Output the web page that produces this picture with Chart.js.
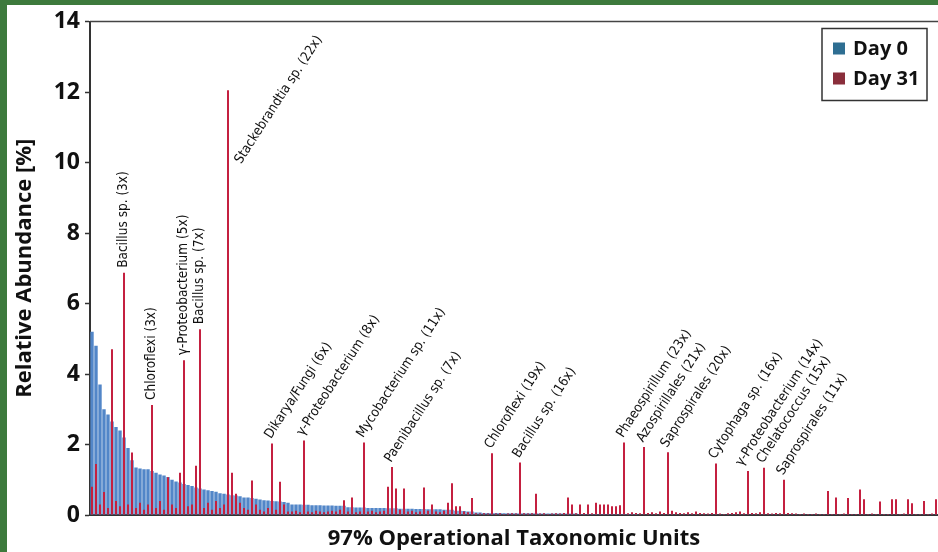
<!DOCTYPE html>
<html>
<head>
<meta charset="utf-8">
<script src="https://cdn.jsdelivr.net/npm/chart.js@4.4.1/dist/chart.umd.min.js"></script>
<style>
  html, body { margin: 0; padding: 0; }
  body { width: 938px; height: 552px; background: #3d7a3c; position: relative; overflow: hidden; }
  #frame { position: absolute; left: 7px; top: 5px; width: 931px; height: 547px; background: #fff; }
</style>
</head>
<body>
<div id="frame"><canvas id="chart"></canvas></div>
<script>
// relative abundance [%] per OTU, ranked by Day 0
const day0 = [
  5.2, 4.8, 3.7, 3.0, 2.85, 2.65, 2.5, 2.4, 2.2, 1.9,
  1.55, 1.35, 1.32, 1.3, 1.3, 1.25, 1.2, 1.15, 1.12, 1.08,
  1.0, 0.95, 0.92, 0.88, 0.85, 0.82, 0.78, 0.75, 0.72, 0.7,
  0.68, 0.66, 0.62, 0.6, 0.58, 0.56, 0.55, 0.53, 0.5, 0.5,
  0.48, 0.46, 0.44, 0.42, 0.41, 0.4, 0.39, 0.38, 0.37, 0.35,
  0.3, 0.3, 0.3, 0.29, 0.29, 0.28, 0.28, 0.28, 0.27, 0.27,
  0.27, 0.26, 0.26, 0.26, 0.22, 0.22, 0.21, 0.21, 0.21, 0.2,
  0.2, 0.2, 0.2, 0.2, 0.19, 0.19, 0.19, 0.18, 0.18, 0.18,
  0.18, 0.17, 0.17, 0.17, 0.16, 0.16, 0.16, 0.16, 0.15, 0.15,
  0.15, 0.12, 0.12, 0.11, 0.1, 0.1, 0.07, 0.07, 0.06, 0.06,
  0.06, 0.06, 0.06, 0.05, 0.05, 0.05, 0.05, 0.05, 0.05, 0.05,
  0.05, 0.05, 0.04, 0.04, 0.04, 0.04, 0.04, 0.04, 0.04, 0.04,
  0.04, 0.04, 0.03, 0.03, 0.03, 0.03, 0.03, 0.03, 0.03, 0.03,
  0.03, 0.03, 0.03, 0.03, 0.03, 0.03, 0.03, 0.02, 0.02, 0.02,
  0.02, 0.02, 0.02, 0.02, 0.02, 0.02, 0.02, 0.02, 0.02, 0.02,
  0.02, 0.02, 0.02, 0.02, 0.02, 0.01, 0.01, 0.01, 0.01, 0.01,
  0.01, 0.01, 0.01, 0.01, 0.01, 0.01, 0.01, 0.01, 0.01, 0.01,
  0.01, 0.01, 0.01, 0.01, 0.01, 0.01, 0.01, 0.01, 0.01, 0.01,
  0.01, 0.01, 0.01, 0.01, 0.01, 0.01, 0.01, 0.01, 0.01, 0.01,
  0.01, 0.01, 0.01, 0.01, 0.01, 0.01, 0.01, 0.01, 0.01, 0.01,
  0.01, 0.01, 0.01, 0.01, 0.01, 0.01, 0.01, 0.01, 0.01, 0.01,
  0.01, 0.01
]
const day31 = [
  0.8, 1.45, 0.3, 0.65, 0.2, 4.7, 0.4, 0.25, 6.87, 0.3,
  1.77, 0.2, 0.35, 0.15, 0.3, 3.12, 0.2, 0.4, 0.15, 1.07,
  0.3, 0.2, 1.2, 4.39, 0.25, 0.3, 1.4, 5.27, 0.2, 0.35,
  0.15, 0.4, 0.2, 0.3, 12.05, 1.2, 0.6, 0.35, 0.2, 0.15,
  0.98, 0.3, 0.15, 0.1, 0.2, 2.03, 0.15, 0.94, 0.3, 0.1,
  0.1, 0.12, 0.08, 2.11, 0.1, 0.08, 0.12, 0.1, 0.08, 0.1,
  0.12, 0.1, 0.15, 0.42, 0.1, 0.5, 0.08, 0.1, 2.06, 0.1,
  0.12, 0.08, 0.1, 0.12, 0.8, 1.36, 0.75, 0.15, 0.75, 0.1,
  0.12, 0.08, 0.1, 0.78, 0.12, 0.3, 0.1, 0.08, 0.12, 0.35,
  0.9, 0.25, 0.25, 0.1, 0.08, 0.48, 0.05, 0.04, 0.05, 0.04,
  1.75, 0.04, 0.05, 0.03, 0.04, 0.05, 0.04, 1.49, 0.05, 0.04,
  0.05, 0.6, 0.04, 0.05, 0.03, 0.04, 0.05, 0.04, 0.06, 0.5,
  0.3, 0.05, 0.3, 0.06, 0.3, 0.05, 0.35, 0.3, 0.3, 0.3,
  0.25, 0.25, 0.28, 2.06, 0.05, 0.08, 0.06, 0.05, 1.93, 0.06,
  0.08, 0.05, 0.1, 0.06, 1.78, 0.12, 0.08, 0.06, 0.05, 0.08,
  0.05, 0.1, 0.06, 0.05, 0.04, 0.06, 1.46, 0.04, 0.03, 0.05,
  0.06, 0.08, 0.1, 0.05, 1.25, 0.06, 0.05, 0.08, 1.34, 0.05,
  0.04, 0.06, 0.05, 1.0, 0.06, 0.05, 0.04, 0.03, 0.04, 0.03,
  0.03, 0.04, 0.03, 0.03, 0.68, 0.03, 0.5, 0.03, 0.04, 0.48,
  0.03, 0.03, 0.72, 0.45, 0.03, 0.04, 0.03, 0.38, 0.03, 0.03,
  0.45, 0.45, 0.03, 0.04, 0.45, 0.33, 0.03, 0.03, 0.4, 0.03,
  0.04, 0.45
]
const otus = day0.map((_, i) => 'OTU ' + (i + 1))
const yTicks = [0, 2, 4, 6, 8, 10, 12, 14]

// annotated Day 31 OTUs (fold change in brackets)
const labelIdx = [8, 15, 23, 27, 34, 45, 53, 68, 75, 100, 107, 133, 138, 144, 156, 164, 168, 173]
const labelText = [
  'Bacillus sp. (3x)', 'Chloroflexi (3x)', 'γ-Proteobacterium (5x)', 'Bacillus sp. (7x)',
  'Stackebrandtia sp. (22x)', 'Dikarya/Fungi (6x)', 'γ-Proteobacterium (8x)', 'Mycobacterium sp. (11x)',
  'Paenibacillus sp. (7x)', 'Chloroflexi (19x)', 'Bacillus sp. (16x)', 'Phaeospirillum (23x)',
  'Azospirillales (21x)', 'Saprospirales (20x)', 'Cytophaga sp. (16x)', 'γ-Proteobacterium (14x)',
  'Chelatococcus (15x)', 'Saprospirales (11x)'
]

const uiFont = '"Open Sans", "DejaVu Sans", sans-serif'

const otuLabels = {
  id: 'otuLabels',
  afterDatasetsDraw(chart, args, opts) {
    const { ctx } = chart
    const meta = chart.getDatasetMeta(1)
    const y = chart.scales.y
    ctx.save()
    ctx.fillStyle = '#111'
    ctx.font = opts.font
    ctx.textAlign = 'left'
    ctx.textBaseline = 'middle'
    labelIdx.forEach((idx, k) => {
      const bar = meta.data[idx]
      const shift = opts.shift[idx] || 0
      ctx.save()
      if (opts.vertical.includes(idx)) {
        ctx.translate(bar.x - 1, bar.y - 5)
        ctx.rotate(-Math.PI / 2)
      } else if (opts.beside[idx] != null) {
        ctx.translate(bar.x + 10, y.getPixelForValue(opts.beside[idx]))
        ctx.rotate(-opts.angle * Math.PI / 180)
      } else {
        ctx.translate(bar.x - 4 + shift, bar.y - 6)
        ctx.rotate(-opts.angle * Math.PI / 180)
      }
      ctx.fillText(labelText[k], 0, 0)
      ctx.restore()
    })
    ctx.restore()
  },
}

const frameAndLegend = {
  id: 'frameAndLegend',
  afterDraw(chart) {
    const { ctx, chartArea: a } = chart
    ctx.save()
    ctx.strokeStyle = '#444'
    ctx.lineWidth = 1.5
    ctx.beginPath()
    ctx.moveTo(a.left, a.top)
    ctx.lineTo(a.right, a.top)
    ctx.stroke()

    const bx = a.right - 116, by = a.top + 7
    ctx.fillStyle = '#fff'
    ctx.fillRect(bx, by, 105, 72)
    ctx.strokeStyle = '#333'
    ctx.strokeRect(bx, by, 105, 72)
    const swatch = ['#2e6e92', '#8a2e3b']
    ctx.font = '700 20px ' + uiFont
    ctx.textBaseline = 'middle'
    chart.data.datasets.forEach((ds, i) => {
      const cy = by + 20 + i * 30
      ctx.fillStyle = swatch[i]
      ctx.fillRect(bx + 11, cy - 6, 12, 12)
      ctx.fillStyle = '#111'
      ctx.fillText(ds.label, bx + 31, cy + 1)
    })
    ctx.restore()
  },
}

new Chart(document.getElementById('chart'), {
  type: 'bar',
  data: {
    labels: otus,
    datasets: [
      { label: 'Day 0', data: day0, backgroundColor: '#5286c8', barPercentage: 0.85, order: 2 },
      { label: 'Day 31', data: day31, backgroundColor: '#c42040', barPercentage: 0.5, order: 1 },
    ],
  },
  options: {
    responsive: true,
    maintainAspectRatio: false,
    animation: false,
    devicePixelRatio: 1,
    datasets: { bar: { grouped: false, categoryPercentage: 1, borderWidth: 0 } },
    layout: { padding: { top: 13, right: 0, left: 0, bottom: 0 } },
    plugins: {
      legend: { display: false },
      tooltip: { enabled: false },
      otuLabels: {
        font: '13.5px "DejaVu Sans Condensed", "Liberation Sans Narrow", sans-serif',
        angle: 57,
        vertical: [8, 15, 23, 27],
        beside: { 34: 10 },
        shift: { 164: -5 },
      },
    },
    scales: {
      x: {
        grid: { display: false },
        border: { display: true, color: '#333', width: 2 },
        ticks: { display: false },
        title: {
          display: true,
          text: '97% Operational Taxonomic Units',
          color: '#111',
          font: { family: uiFont, size: 22, weight: '700' },
          padding: { top: 0, bottom: 0 },
        },
        afterFit: (s) => { s.height = 37 },
      },
      y: {
        min: 0,
        max: 14,
        afterBuildTicks: (s) => { s.ticks = yTicks.map((v) => ({ value: v })) },
        grid: { drawOnChartArea: false, drawTicks: true, tickLength: 5, color: '#333', tickWidth: 1.5 },
        border: { color: '#333', width: 2 },
        ticks: { color: '#111', padding: 5, font: { family: uiFont, size: 23, weight: '700', lineHeight: 1 } },
        title: {
          display: true,
          text: 'Relative Abundance [%]',
          color: '#111',
          font: { family: uiFont, size: 22, weight: '700' },
          padding: { top: 5, bottom: 0 },
        },
        afterFit: (s) => { s.width = 83 },
      },
    },
  },
  plugins: [otuLabels, frameAndLegend],
})
</script>
</body>
</html>
